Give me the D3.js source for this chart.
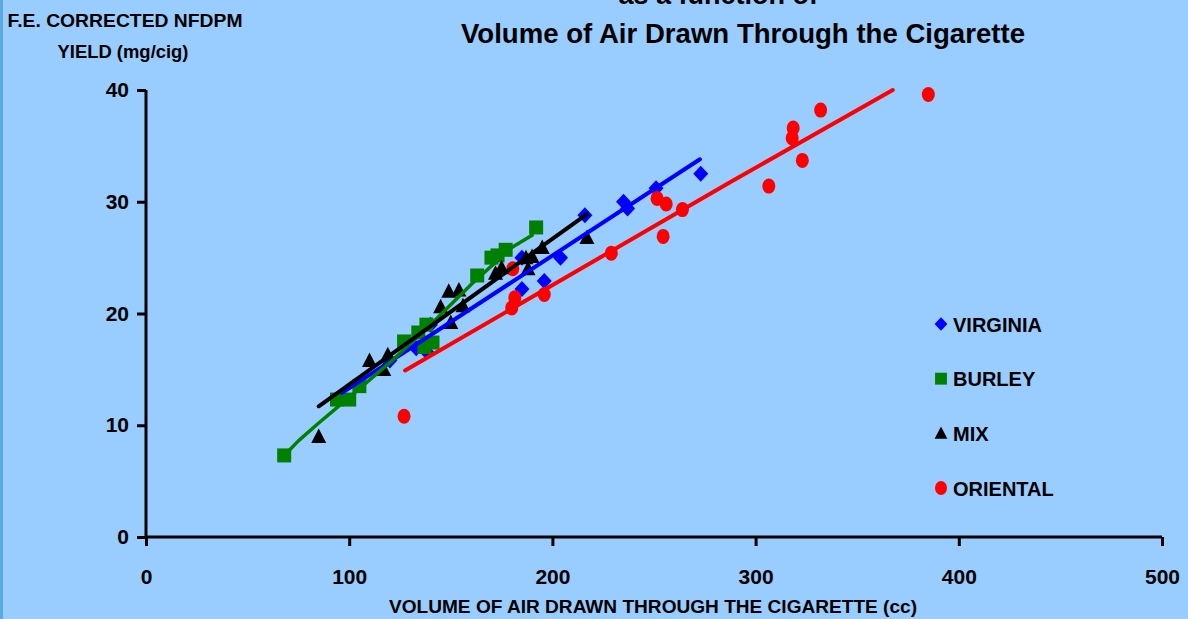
<!DOCTYPE html>
<html lang="en">
<head>
<meta charset="utf-8">
<title>NFDPM yield vs volume of air drawn</title>
<script src="https://cdn.jsdelivr.net/npm/d3@7/dist/d3.min.js"></script>
<style>
  html, body { margin: 0; padding: 0; background: #99ccff; }
  svg { display: block; font-family: "Liberation Sans", Arial, sans-serif; font-weight: bold; }
</style>
</head>
<body>
<script>
// data: [volume cc, yield mg/cig]
var virginia = [[120, 15.8], [133, 16.9], [138, 16.6], [140, 19.0], [185, 22.2], [185, 25.0],
                [196, 22.9], [204, 25.0], [216, 28.8], [235, 30.0], [237, 29.4], [251, 31.2], [273, 32.5]];
var burley = [[68, 7.3], [94, 12.3], [100, 12.3], [105, 13.5], [127, 17.5], [134, 18.3], [138, 19.0],
              [137, 17.0], [141, 17.4], [163, 23.4], [170, 25.0], [173, 25.2], [177, 25.7], [192, 27.7]];
var mix = [[85, 9.0], [110, 15.8], [119, 16.3], [117, 15.0], [145, 20.6], [149, 22.0], [154, 22.1],
           [156, 20.7], [150, 19.2], [172, 23.6], [175, 24.1], [187, 25.0], [190, 25.1], [195, 25.9],
           [188, 24.0], [217, 26.8]];
var oriental = [[127, 10.8], [180.5, 24.0], [181.5, 21.4], [180, 20.5], [196, 21.7], [229, 25.4],
                [251.5, 30.3], [256, 29.8], [264, 29.3], [254.5, 26.9], [306.5, 31.4], [318.5, 36.6],
                [318, 35.7], [323, 33.7], [332, 38.2], [385, 39.6]];

// trend lines as drawn in the picture
var virginiaFit = [[96.5, 12.9], [272.6, 33.8]];
var burleyFit = [[68, 7.3], [75, 8.6], [85, 10.2], [100, 12.5], [120, 15.6], [140, 19.0], [160, 22.6], [180, 25.9], [190, 27.0]];
var mixFit = [[85, 11.7], [217, 28.9]];
var orientalFit = [[127.5, 14.9], [287, 31.7], [367.5, 40]];

var seriesNames = ["VIRGINIA", "BURLEY", "MIX", "ORIENTAL"];
var xTicks = [0, 100, 200, 300, 400, 500];
var yTicks = [0, 10, 20, 30, 40];

var W = 1188, H = 619;
var svg = d3.select("body").append("svg").attr("width", W).attr("height", H);

svg.append("rect").attr("width", W).attr("height", H).attr("fill", "#99ccff");
svg.append("rect").attr("width", 3).attr("height", H).attr("fill", "#5aa8dc");

var x = d3.scaleLinear().domain([0, 500]).range([146, 1162]);
var y = d3.scaleLinear().domain([0, 40]).range([537, 90]);

// titles (first line is cut by the top edge in the original too)
svg.append("text").attr("x", 818).attr("y", 4).attr("text-anchor", "end")
   .attr("font-size", 27).text("as a function of");
svg.append("text").attr("x", 743).attr("y", 43).attr("text-anchor", "middle")
   .attr("font-size", 28).attr("textLength", 564).attr("lengthAdjust", "spacingAndGlyphs")
   .text("Volume of Air Drawn Through the Cigarette");

svg.append("text").attr("x", 125).attr("y", 27).attr("text-anchor", "middle")
   .attr("font-size", 19).attr("textLength", 235).attr("lengthAdjust", "spacingAndGlyphs")
   .text("F.E. CORRECTED NFDPM");
svg.append("text").attr("x", 123).attr("y", 58).attr("text-anchor", "middle")
   .attr("font-size", 19).attr("textLength", 131).attr("lengthAdjust", "spacingAndGlyphs")
   .text("YIELD (mg/cig)");

svg.append("text").attr("x", 653).attr("y", 613).attr("text-anchor", "middle")
   .attr("font-size", 18).attr("textLength", 528).attr("lengthAdjust", "spacingAndGlyphs")
   .text("VOLUME OF AIR DRAWN THROUGH THE CIGARETTE (cc)");

// axes
var xAxis = svg.append("g").attr("transform", "translate(0,537)")
   .call(d3.axisBottom(x).tickValues(xTicks).tickSize(9).tickPadding(23).tickFormat(d3.format("d")));
var yAxis = svg.append("g").attr("transform", "translate(146,0)")
   .call(d3.axisLeft(y).tickValues(yTicks).tickSize(9).tickPadding(8).tickFormat(d3.format("d")));

[xAxis, yAxis].forEach(function (g) {
    g.select(".domain").attr("stroke", "#000").attr("stroke-width", 3);
    g.selectAll(".tick line").attr("stroke", "#000").attr("stroke-width", 3);
    g.selectAll(".tick text").attr("fill", "#000").attr("font-size", 21)
     .attr("font-family", "Liberation Sans, Arial, sans-serif").attr("font-weight", "bold");
});
xAxis.select(".domain").attr("d", "M146,0H1162");
yAxis.select(".domain").attr("d", "M0,537V90");

// marker shapes
var shapes = {
    diamond: "M0,-8L7.5,0L0,8L-7.5,0Z",
    square: "M-7,-7H7V7H-7Z",
    triangle: "M0,-8L7.5,6.5L-7.5,6.5Z"
};

function drawPoints(data, shape, color) {
    var g = svg.append("g");
    if (shape === "circle") {
        g.selectAll("ellipse").data(data).enter().append("ellipse")
         .attr("cx", function (d) { return x(d[0]); })
         .attr("cy", function (d) { return y(d[1]); })
         .attr("rx", 6.5).attr("ry", 7.5).attr("fill", color);
    } else {
        g.selectAll("path").data(data).enter().append("path")
         .attr("d", shapes[shape])
         .attr("transform", function (d) { return "translate(" + x(d[0]) + "," + y(d[1]) + ")"; })
         .attr("fill", color);
    }
}

var line = d3.line().x(function (d) { return x(d[0]); }).y(function (d) { return y(d[1]); });
function drawFit(data, color, w) {
    svg.append("path").datum(data).attr("d", line).attr("fill", "none")
       .attr("stroke", color).attr("stroke-width", w).attr("stroke-linecap", "round")
       .attr("stroke-linejoin", "round");
}

drawPoints(virginia, "diamond", "#0000ff");
drawPoints(oriental, "circle", "#ff0000");
drawPoints(burley, "square", "#008000");
drawPoints(mix, "triangle", "#000000");

drawFit(virginiaFit, "#0000ff", 4);
drawFit(burleyFit, "#008000", 3.5);
drawFit(mixFit, "#000000", 4);
drawFit(orientalFit, "#ff0000", 4);

// legend
var legendShapes = ["diamond", "square", "triangle", "circle"];
var legendColors = ["#0000ff", "#008000", "#000000", "#ff0000"];
var legendY = d3.scalePoint().domain(seriesNames).range([324, 488]);
seriesNames.forEach(function (name, i) {
    var ly = legendY(name);
    if (legendShapes[i] === "circle") {
        svg.append("ellipse").attr("cx", 941).attr("cy", ly).attr("rx", 6).attr("ry", 7)
           .attr("fill", legendColors[i]);
    } else {
        svg.append("path").attr("d", shapes[legendShapes[i]])
           .attr("transform", "translate(941," + ly + ") scale(0.85)")
           .attr("fill", legendColors[i]);
    }
    svg.append("text").attr("x", 953).attr("y", ly + 7.5).attr("font-size", 20).text(name);
});
</script>
</body>
</html>
